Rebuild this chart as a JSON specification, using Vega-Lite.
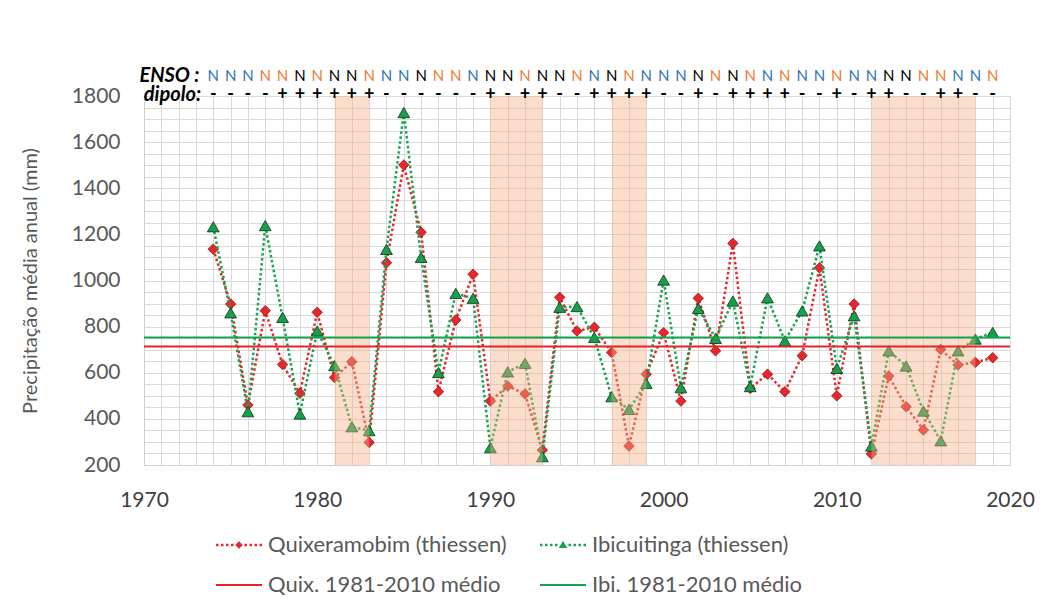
{
  "$schema": "https://vega.github.io/schema/vega-lite/v6.json",
  "width": 866,
  "height": 369,
  "autosize": {"type": "none"},
  "padding": {"left": 144, "top": 96, "right": 38, "bottom": 147},
  "background": "white",
  "config": {"font": "Lato", "view": {"stroke": null}},
  "datasets": {
    "anual": [
      {"ano": 1974, "quix": 1136, "ibi": 1233, "enso": "N", "fase": "La Niña", "dipolo": "-"},
      {"ano": 1975, "quix": 898, "ibi": 860, "enso": "N", "fase": "La Niña", "dipolo": "-"},
      {"ano": 1976, "quix": 460, "ibi": 431, "enso": "N", "fase": "La Niña", "dipolo": "-"},
      {"ano": 1977, "quix": 869, "ibi": 1238, "enso": "N", "fase": "El Niño", "dipolo": "-"},
      {"ano": 1978, "quix": 636, "ibi": 840, "enso": "N", "fase": "El Niño", "dipolo": "+"},
      {"ano": 1979, "quix": 511, "ibi": 421, "enso": "N", "fase": "Neutro", "dipolo": "+"},
      {"ano": 1980, "quix": 862, "ibi": 781, "enso": "N", "fase": "El Niño", "dipolo": "+"},
      {"ano": 1981, "quix": 579, "ibi": 631, "enso": "N", "fase": "Neutro", "dipolo": "+"},
      {"ano": 1982, "quix": 648, "ibi": 366, "enso": "N", "fase": "Neutro", "dipolo": "+"},
      {"ano": 1983, "quix": 298, "ibi": 349, "enso": "N", "fase": "El Niño", "dipolo": "+"},
      {"ano": 1984, "quix": 1077, "ibi": 1135, "enso": "N", "fase": "La Niña", "dipolo": "-"},
      {"ano": 1985, "quix": 1501, "ibi": 1728, "enso": "N", "fase": "La Niña", "dipolo": "-"},
      {"ano": 1986, "quix": 1209, "ibi": 1100, "enso": "N", "fase": "Neutro", "dipolo": "-"},
      {"ano": 1987, "quix": 518, "ibi": 601, "enso": "N", "fase": "El Niño", "dipolo": "-"},
      {"ano": 1988, "quix": 829, "ibi": 944, "enso": "N", "fase": "El Niño", "dipolo": "-"},
      {"ano": 1989, "quix": 1027, "ibi": 923, "enso": "N", "fase": "La Niña", "dipolo": "-"},
      {"ano": 1990, "quix": 477, "ibi": 275, "enso": "N", "fase": "Neutro", "dipolo": "+"},
      {"ano": 1991, "quix": 542, "ibi": 604, "enso": "N", "fase": "Neutro", "dipolo": "-"},
      {"ano": 1992, "quix": 508, "ibi": 641, "enso": "N", "fase": "El Niño", "dipolo": "+"},
      {"ano": 1993, "quix": 265, "ibi": 236, "enso": "N", "fase": "Neutro", "dipolo": "+"},
      {"ano": 1994, "quix": 927, "ibi": 884, "enso": "N", "fase": "Neutro", "dipolo": "-"},
      {"ano": 1995, "quix": 781, "ibi": 887, "enso": "N", "fase": "El Niño", "dipolo": "-"},
      {"ano": 1996, "quix": 797, "ibi": 753, "enso": "N", "fase": "La Niña", "dipolo": "+"},
      {"ano": 1997, "quix": 688, "ibi": 496, "enso": "N", "fase": "Neutro", "dipolo": "+"},
      {"ano": 1998, "quix": 282, "ibi": 441, "enso": "N", "fase": "El Niño", "dipolo": "+"},
      {"ano": 1999, "quix": 594, "ibi": 554, "enso": "N", "fase": "La Niña", "dipolo": "+"},
      {"ano": 2000, "quix": 774, "ibi": 1002, "enso": "N", "fase": "La Niña", "dipolo": "-"},
      {"ano": 2001, "quix": 477, "ibi": 535, "enso": "N", "fase": "La Niña", "dipolo": "-"},
      {"ano": 2002, "quix": 923, "ibi": 879, "enso": "N", "fase": "Neutro", "dipolo": "+"},
      {"ano": 2003, "quix": 695, "ibi": 749, "enso": "N", "fase": "El Niño", "dipolo": "-"},
      {"ano": 2004, "quix": 1161, "ibi": 911, "enso": "N", "fase": "Neutro", "dipolo": "+"},
      {"ano": 2005, "quix": 532, "ibi": 540, "enso": "N", "fase": "El Niño", "dipolo": "+"},
      {"ano": 2006, "quix": 594, "ibi": 925, "enso": "N", "fase": "La Niña", "dipolo": "+"},
      {"ano": 2007, "quix": 518, "ibi": 738, "enso": "N", "fase": "El Niño", "dipolo": "+"},
      {"ano": 2008, "quix": 674, "ibi": 868, "enso": "N", "fase": "La Niña", "dipolo": "-"},
      {"ano": 2009, "quix": 1055, "ibi": 1150, "enso": "N", "fase": "La Niña", "dipolo": "-"},
      {"ano": 2010, "quix": 500, "ibi": 619, "enso": "N", "fase": "El Niño", "dipolo": "+"},
      {"ano": 2011, "quix": 898, "ibi": 847, "enso": "N", "fase": "La Niña", "dipolo": "-"},
      {"ano": 2012, "quix": 248, "ibi": 282, "enso": "N", "fase": "La Niña", "dipolo": "+"},
      {"ano": 2013, "quix": 586, "ibi": 695, "enso": "N", "fase": "Neutro", "dipolo": "+"},
      {"ano": 2014, "quix": 453, "ibi": 629, "enso": "N", "fase": "Neutro", "dipolo": "-"},
      {"ano": 2015, "quix": 352, "ibi": 434, "enso": "N", "fase": "El Niño", "dipolo": "-"},
      {"ano": 2016, "quix": 701, "ibi": 305, "enso": "N", "fase": "El Niño", "dipolo": "+"},
      {"ano": 2017, "quix": 634, "ibi": 695, "enso": "N", "fase": "La Niña", "dipolo": "+"},
      {"ano": 2018, "quix": 645, "ibi": 746, "enso": "N", "fase": "La Niña", "dipolo": "-"},
      {"ano": 2019, "quix": 665, "ibi": 775, "enso": "N", "fase": "El Niño", "dipolo": "-"}
    ],
    "periodos": [
      {"inicio": 1981, "fim": 1983},
      {"inicio": 1990, "fim": 1993},
      {"inicio": 1997, "fim": 1999},
      {"inicio": 2012, "fim": 2018}
    ],
    "medias": [
      {"serie": "Quix. 1981-2010 médio", "media": 714},
      {"serie": "Ibi. 1981-2010 médio", "media": 753}
    ],
    "legenda": [
      {"serie": "Quixeramobim (thiessen)"},
      {"serie": "Ibicuitinga (thiessen)"},
      {"serie": "Quix. 1981-2010 médio"},
      {"serie": "Ibi. 1981-2010 médio"}
    ]
  },
  "data": {"name": "anual"},
  "layer": [
    {
      "mark": {"type": "line", "color": "#e8262b", "strokeWidth": 2.5, "strokeDash": [2.5, 2.5]},
      "encoding": {
        "x": {
          "field": "ano", "type": "quantitative", "title": null,
          "scale": {"domain": [1970, 2020], "nice": false, "zero": false},
          "axis": {
            "values": [1970,1971,1972,1973,1974,1975,1976,1977,1978,1979,1980,1981,1982,1983,1984,1985,1986,1987,1988,1989,1990,1991,1992,1993,1994,1995,1996,1997,1998,1999,2000,2001,2002,2003,2004,2005,2006,2007,2008,2009,2010,2011,2012,2013,2014,2015,2016,2017,2018,2019,2020],
            "tickCount": 80,
            "format": "d",
            "labelExpr": "datum.value % 10 === 0 ? datum.label : ''",
            "labelOverlap": false, "labelFlush": false,
            "grid": true, "gridColor": "#d9d9d9", "gridWidth": 1,
            "ticks": false, "domainColor": "#d0d0d0",
            "labelFontSize": 21, "labelColor": "#404040", "labelPadding": 24
          }
        },
        "y": {
          "field": "quix", "type": "quantitative", "title": "Precipitação média anual (mm)",
          "scale": {"domain": [200, 1800], "nice": false, "zero": false},
          "axis": {
            "values": [200,250,300,350,400,450,500,550,600,650,700,750,800,850,900,950,1000,1050,1100,1150,1200,1250,1300,1350,1400,1450,1500,1550,1600,1650,1700,1750,1800],
            "tickCount": 60,
            "format": "d",
            "labelExpr": "datum.value % 200 === 0 ? datum.label : ''",
            "labelOverlap": false, "labelFlush": false,
            "grid": true, "gridColor": "#d9d9d9", "gridWidth": 1,
            "ticks": false, "domainColor": "#d0d0d0",
            "labelFontSize": 21, "labelColor": "#595959", "labelPadding": 24,
            "titleFontSize": 20, "titleFontWeight": "normal", "titleColor": "#595959", "titlePadding": 31
          }
        }
      }
    },
    {
      "mark": {"type": "point", "shape": "diamond", "filled": true, "fill": "#e8262b", "stroke": "#8f1a1a", "strokeWidth": 0.8, "size": 110, "opacity": 1},
      "encoding": {
        "x": {"field": "ano", "type": "quantitative", "title": null},
        "y": {"field": "quix", "type": "quantitative", "title": "Precipitação média anual (mm)"}
      }
    },
    {
      "mark": {"type": "line", "color": "#17a34f", "strokeWidth": 2.5, "strokeDash": [2.5, 2.5]},
      "encoding": {
        "x": {"field": "ano", "type": "quantitative", "title": null},
        "y": {"field": "ibi", "type": "quantitative", "title": "Precipitação média anual (mm)"}
      }
    },
    {
      "mark": {"type": "point", "shape": "triangle-up", "filled": true, "fill": "#16a04c", "stroke": "#0a3318", "strokeWidth": 0.8, "size": 140, "opacity": 1},
      "encoding": {
        "x": {"field": "ano", "type": "quantitative", "title": null},
        "y": {"field": "ibi", "type": "quantitative", "title": "Precipitação média anual (mm)"}
      }
    },
    {
      "data": {"name": "periodos"},
      "mark": {"type": "rect", "color": "#f4b183", "opacity": 0.42},
      "encoding": {
        "x": {"field": "inicio", "type": "quantitative", "title": null},
        "x2": {"field": "fim"}
      }
    },
    {
      "data": {"name": "medias"},
      "mark": {"type": "rule", "strokeWidth": 2},
      "encoding": {
        "y": {"field": "media", "type": "quantitative", "title": "Precipitação média anual (mm)"},
        "color": {"condition": {"test": "datum.serie === 'Quix. 1981-2010 médio'", "value": "#e0262b"}, "value": "#14a44d"}
      }
    },
    {
      "mark": {"type": "text", "fontSize": 15, "baseline": "middle", "align": "center"},
      "encoding": {
        "x": {"field": "ano", "type": "quantitative", "title": null},
        "y": {"datum": 1885, "type": "quantitative"},
        "text": {"field": "enso"},
        "color": {"condition": [
          {"test": "datum.fase === 'La Niña'", "value": "#2e75b6"},
          {"test": "datum.fase === 'El Niño'", "value": "#ed7d31"}
        ], "value": "#000000"}
      }
    },
    {
      "mark": {"type": "text", "fontSize": 18, "fontWeight": "bold", "baseline": "middle", "align": "center", "color": "#000000"},
      "encoding": {
        "x": {"field": "ano", "type": "quantitative", "title": null},
        "y": {"datum": 1805, "type": "quantitative"},
        "text": {"field": "dipolo"}
      }
    },
    {
      "data": {"values": [{"rotulo": "ENSO :"}]},
      "mark": {"type": "text", "fontSize": 20, "fontWeight": "bold", "fontStyle": "italic", "baseline": "middle", "align": "right", "color": "#000000"},
      "encoding": {
        "x": {"datum": 1973.2, "type": "quantitative"},
        "y": {"datum": 1885, "type": "quantitative"},
        "text": {"field": "rotulo"}
      }
    },
    {
      "data": {"values": [{"rotulo": "dipolo:"}]},
      "mark": {"type": "text", "fontSize": 20, "fontWeight": "bold", "fontStyle": "italic", "baseline": "middle", "align": "right", "color": "#000000"},
      "encoding": {
        "x": {"datum": 1973.3, "type": "quantitative"},
        "y": {"datum": 1805, "type": "quantitative"},
        "text": {"field": "rotulo"}
      }
    },
    {
      "data": {"name": "legenda"},
      "mark": {"type": "point", "filled": true, "opacity": 0, "strokeWidth": 0},
      "encoding": {
        "color": {
          "field": "serie", "type": "nominal",
          "scale": {
            "domain": ["Quixeramobim (thiessen)", "Ibicuitinga (thiessen)", "Quix. 1981-2010 médio", "Ibi. 1981-2010 médio"],
            "range": ["#e8262b", "#17a34f", "#e0262b", "#14a44d"]
          },
          "legend": {
            "orient": "none", "legendX": 84, "legendY": 438, "columns": 2, "direction": "horizontal",
            "title": null, "padding": 0, "labelFont": "Lato", "labelFontSize": 22, "labelColor": "#595959", "labelLimit": 500,
            "symbolSize": 400, "symbolStrokeWidth": 0, "symbolOpacity": 1,
            "labelOffset": 18, "rowPadding": 18, "columnPadding": 33
          }
        },
        "shape": {
          "field": "serie", "type": "nominal",
          "scale": {
            "domain": ["Quixeramobim (thiessen)", "Ibicuitinga (thiessen)", "Quix. 1981-2010 médio", "Ibi. 1981-2010 médio"],
            "range": [
              "M-2.3,-0.12h0.25v0.24h-0.25zM-1.8,-0.12h0.25v0.24h-0.25zM-1.3,-0.12h0.25v0.24h-0.25zM-0.8,-0.12h0.25v0.24h-0.25zM0.55,-0.12h0.25v0.24h-0.25zM1.05,-0.12h0.25v0.24h-0.25zM1.55,-0.12h0.25v0.24h-0.25zM2.05,-0.12h0.25v0.24h-0.25zM0,-0.38L0.38,0L0,0.38L-0.38,0z",
              "M-2.3,-0.12h0.25v0.24h-0.25zM-1.8,-0.12h0.25v0.24h-0.25zM-1.3,-0.12h0.25v0.24h-0.25zM-0.8,-0.12h0.25v0.24h-0.25zM0.55,-0.12h0.25v0.24h-0.25zM1.05,-0.12h0.25v0.24h-0.25zM1.55,-0.12h0.25v0.24h-0.25zM2.05,-0.12h0.25v0.24h-0.25zM0,-0.42L0.42,0.3L-0.42,0.3z",
              "M-2.3,-0.1H2.3V0.1H-2.3z",
              "M-2.3,-0.1H2.3V0.1H-2.3z"
            ]
          },
          "legend": {
            "orient": "none", "legendX": 84, "legendY": 438, "columns": 2, "direction": "horizontal",
            "title": null, "padding": 0, "labelFont": "Lato", "labelFontSize": 22, "labelColor": "#595959", "labelLimit": 500,
            "symbolSize": 400, "symbolStrokeWidth": 0, "symbolOpacity": 1,
            "labelOffset": 18, "rowPadding": 18, "columnPadding": 33
          }
        }
      }
    }
  ]
}
